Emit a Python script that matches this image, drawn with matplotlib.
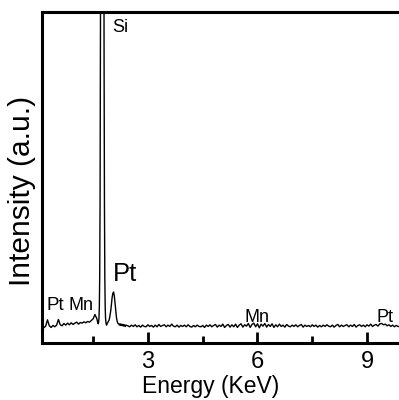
import numpy as np
import matplotlib.pyplot as plt
from matplotlib.ticker import FixedLocator

plt.rcParams['font.family'] = ['Liberation Sans', 'DejaVu Sans']

# EDS spectrum, energy in keV, intensity in arbitrary units
e_low = np.round(np.arange(0.10, 1.601, 0.05), 3)
c_low = [4.9, 4.6, 5.1, 7.0, 5.2, 4.7, 5.3, 4.9, 5.4, 7.1,
         5.5, 5.2, 5.9, 5.4, 6.0, 5.5, 6.1, 5.6, 6.0, 6.3,
         5.7, 6.2, 6.0, 6.4, 6.1, 6.5, 6.3, 6.8, 7.3, 8.6, 7.4]

e_si = np.round(np.arange(1.62, 1.881, 0.01), 3)
c_si = [6.4, 6.0, 5.8, 6.3, 7.5, 11, 20, 42, 85, 160,
        270, 400, 510, 550, 510, 400, 270, 160, 85, 42,
        20, 11, 7.5, 6.2, 5.6, 5.4, 5.8]

e_pt = np.round(np.arange(1.90, 2.401, 0.02), 3)
c_pt = [6.2, 6.6, 7.0, 8.2, 9.6, 11.5, 13.8, 15.0, 15.4, 14.2,
        12.0, 9.5, 7.6, 6.5, 5.9, 5.8, 5.4, 5.8, 5.3, 5.7,
        5.2, 5.6, 5.1, 5.5, 5.0, 5.4]

e_high = np.round(np.arange(2.45, 9.901, 0.05), 3)
c_high = [5.2, 4.9, 5.4, 5.0, 5.5, 4.9, 5.3, 4.8, 5.4, 5.0,
          4.9, 5.5, 5.0, 5.3, 4.8, 5.4, 4.9, 5.6, 5.0, 5.3,
          5.5, 4.9, 5.4, 5.0, 5.7, 5.1, 4.9, 5.4, 4.8, 5.3,
          5.0, 5.4, 4.9, 5.5, 5.0, 4.8, 5.3, 4.9, 5.4, 5.0,
          4.9, 5.3, 4.7, 5.4, 5.0, 5.5, 4.9, 5.3, 5.6, 4.8,
          5.4, 5.0, 5.7, 4.7, 5.3, 5.6, 4.8, 5.5, 4.9, 5.7,
          4.7, 5.4, 5.8, 4.8, 5.5, 5.1, 5.9, 4.7, 5.6, 6.0,
          4.9, 5.8, 4.6, 5.7, 5.1, 5.9, 4.8, 5.6, 5.0, 5.8,
          4.7, 5.5, 4.9, 5.7, 5.0, 5.4, 4.8, 5.6, 5.1, 4.9,
          5.4, 5.0, 5.5, 4.9, 5.3, 5.6, 4.8, 5.4, 5.0, 5.3,
          4.9, 5.5, 5.0, 5.4, 4.8, 5.3, 4.9, 5.4, 5.0, 5.5,
          5.1, 4.9, 5.4, 4.8, 5.3, 5.6, 4.9, 5.4, 5.0, 5.3,
          5.5, 4.9, 5.4, 5.0, 5.6, 4.8, 5.3, 5.5, 5.0, 5.4,
          4.9, 5.5, 5.1, 5.7, 5.0, 5.4, 5.6, 5.1, 5.8, 5.9,
          5.5, 5.7, 5.2, 5.5, 5.0, 5.4, 4.9, 5.3, 5.0, 4.9]

energy = np.concatenate([e_low, e_si, e_pt, e_high])
counts = np.concatenate([c_low, c_si, c_pt, c_high])

# peak labels: (text, energy, height of baseline, fontsize)
peak_labels = [('Pt', 0.47, 10.0, 13.5), ('Mn', 1.16, 10.0, 13),
               ('Si', 2.23, 94.0, 13), ('Pt', 2.38, 18.7, 18.5),
               ('Mn', 5.99, 6.3, 13), ('Pt', 9.48, 6.3, 13)]

fig = plt.figure(figsize=(3.99, 4.0), dpi=100)
ax = fig.add_axes([42 / 399, 57 / 400, 359 / 399, 331 / 400])

ax.plot(energy, counts, color='k', lw=1.0)

for txt, x, y, fs in peak_labels:
    ax.text(x, y, txt, ha='center', va='baseline', fontsize=fs)

ax.set_xlim(0.1, 9.93)
ax.set_ylim(0, 100)

ax.xaxis.set_major_locator(FixedLocator([3, 6, 9]))
ax.xaxis.set_minor_locator(FixedLocator([1.5, 4.5, 7.5]))
ax.tick_params(axis='x', which='major', direction='in', length=8, width=2,
               labelsize=17, pad=6)
ax.tick_params(axis='x', which='minor', direction='in', length=5, width=2)
ax.set_yticks([])

for s in ax.spines.values():
    s.set_linewidth(2.2)
ax.spines['right'].set_visible(False)

ax.set_xlabel('Energy (KeV)', fontsize=16.5)
ax.xaxis.set_label_coords(0.469, -0.096)
ax.set_ylabel('Intensity (a.u.)', fontsize=21.5)
ax.yaxis.set_label_coords(-0.016, 0.46)

fig.savefig('out.png', dpi=100)
